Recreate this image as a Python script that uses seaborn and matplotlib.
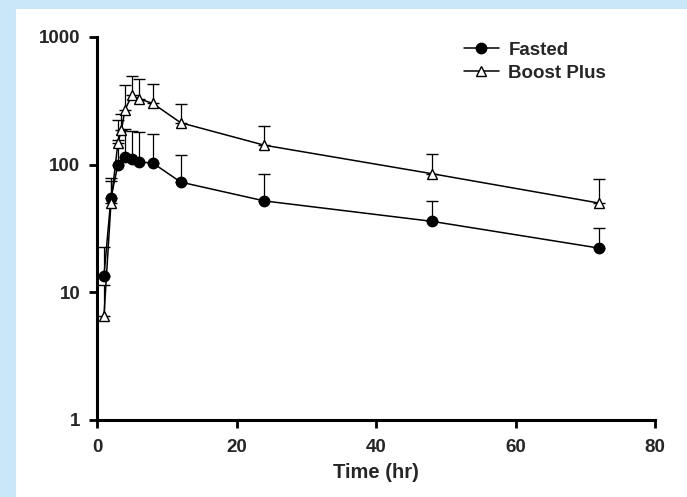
import numpy as np
import pandas as pd
import matplotlib
matplotlib.use("Agg")
import matplotlib.pyplot as plt
from matplotlib.patches import Rectangle
from matplotlib.lines import Line2D
from matplotlib.ticker import FixedLocator, NullLocator
import seaborn as sns

# Plasma concentration (mean with upper SD) by sampling time
fasted_time = [1, 2, 3, 4, 5, 6, 8, 12, 24, 48, 72]
fasted_mean = [13.5, 55, 100, 115, 111, 105, 103, 73, 52, 36, 22.2]
fasted_upper = [22.8, 78, 155, 190, 185, 180, 175, 118, 84, 52, 32]

boost_time = [1, 2, 3, 3.5, 4, 5, 6, 8, 12, 24, 48, 72]
boost_mean = [6.5, 50, 148, 186, 268, 350, 328, 302, 213, 142, 85, 50]
boost_upper = [11.4, 75, 225, 250, 420, 495, 468, 430, 298, 202, 122, 77]

group_names = ["Fasted", "Boost Plus"]
x_ticks = [0, 20, 40, 60, 80]
y_ticks = [1, 10, 100, 1000]
y_tick_labels = ["1", "10", "100", "1000"]
x_label = "Time (hr)"

df = pd.concat([
    pd.DataFrame({"time": fasted_time, "conc": fasted_mean,
                  "upper": fasted_upper, "group": group_names[0]}),
    pd.DataFrame({"time": boost_time, "conc": boost_mean,
                  "upper": boost_upper, "group": group_names[1]}),
], ignore_index=True)

sns.set_style("ticks")
plt.rcParams["font.family"] = ["Liberation Sans", "DejaVu Sans"]
plt.rcParams["font.weight"] = "bold"

fig = plt.figure(figsize=(6.87, 4.97), dpi=100, facecolor="#c9e7f8")
fig.patches.append(Rectangle((16 / 687, 0), 1, 1 - 9 / 497,
                             transform=fig.transFigure, facecolor="white",
                             edgecolor="none", zorder=-5))
ax = fig.add_axes([97 / 687, 1 - 420 / 497, (655 - 97) / 687, (420 - 37) / 497])
ax.set_facecolor("none")
ax.set_zorder(2)

# upper-only error bars
for name, sub in df.groupby("group", sort=False):
    ax.errorbar(sub["time"], sub["conc"],
                yerr=[np.zeros(len(sub)), sub["upper"] - sub["conc"]],
                fmt="none", ecolor="black", elinewidth=0.9, capsize=4.5,
                capthick=1.0, zorder=2)

sns.lineplot(data=df, x="time", y="conc", hue="group", style="group",
             hue_order=group_names, style_order=group_names,
             palette={group_names[0]: "black", group_names[1]: "black"},
             markers={group_names[0]: "o", group_names[1]: "^"},
             dashes=False, linewidth=1.1, markersize=7.5,
             markeredgecolor="black", markeredgewidth=1.0,
             ax=ax, zorder=3, legend=False)

for line in ax.lines:
    if line.get_marker() == "^":
        line.set_markerfacecolor("white")
    elif line.get_marker() == "o":
        line.set_markerfacecolor("black")

ax.set_yscale("log")
ax.set_xlim(0, 80)
ax.set_ylim(1, 1000)
ax.xaxis.set_major_locator(FixedLocator(x_ticks))
ax.yaxis.set_major_locator(FixedLocator(y_ticks))
ax.yaxis.set_minor_locator(NullLocator())
ax.set_yticklabels(y_tick_labels)
ax.set_xlabel(x_label, fontsize=14.5, fontweight="bold", labelpad=5)
ax.set_ylabel("")

for side in ["top", "right"]:
    ax.spines[side].set_visible(False)
for side in ["left", "bottom"]:
    ax.spines[side].set_linewidth(2.2)
    ax.spines[side].set_color("black")
ax.tick_params(axis="both", which="major", length=6, width=2.0,
               labelsize=13.5, color="black")
ax.tick_params(axis="y", pad=6)
ax.tick_params(axis="x", pad=8)
for lab in ax.get_xticklabels() + ax.get_yticklabels():
    lab.set_fontweight("bold")

handles = [
    Line2D([], [], color="black", lw=1.1, marker="o", markersize=7.5,
           markerfacecolor="black", markeredgecolor="black"),
    Line2D([], [], color="black", lw=1.1, marker="^", markersize=7.5,
           markerfacecolor="white", markeredgecolor="black"),
]
ax.legend(handles, group_names, loc="upper left",
          bbox_to_anchor=((456 - 97) / 558, (420 - 34) / 383),
          frameon=False, handlelength=1.9, handletextpad=0.5,
          labelspacing=0.32, borderaxespad=0,
          prop={"size": 13.5, "weight": "bold"})

fig.savefig("out.png", dpi=100, facecolor=fig.get_facecolor())
